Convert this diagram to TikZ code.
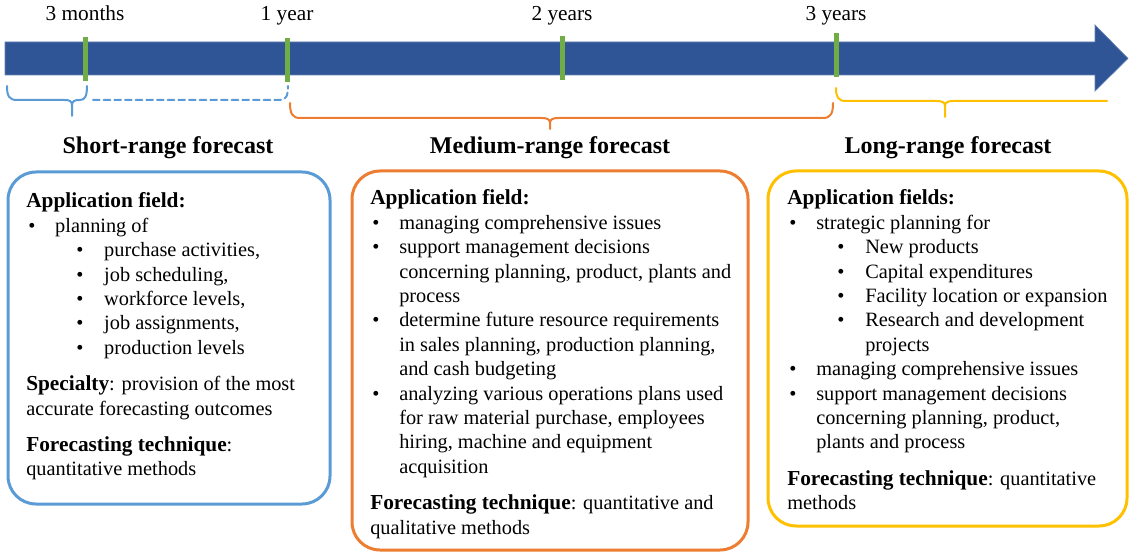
\documentclass[tikz,border=0pt]{standalone}
\usepackage{fontspec}
\setmainfont{Liberation Serif}
\usepackage{tikz}

\definecolor{arrowblue}{HTML}{2F5597}
\definecolor{tickgreen}{HTML}{70AD47}
\definecolor{shortblue}{HTML}{5B9BD5}
\definecolor{medorange}{HTML}{ED7D31}
\definecolor{longyellow}{HTML}{FFC000}

\newcommand{\bul}{\hspace*{1.5pt}\makebox[20.25pt][l]{\textbullet}}
\newcommand{\subbul}{\hspace*{37.5pt}\makebox[21pt][l]{\textbullet}}
\newcommand{\contline}{\hspace*{21.75pt}}
\newcommand{\subcontline}{\hspace*{58.5pt}}
\newcommand{\hd}[1]{{\fontsize{16}{18.3}\selectfont\bfseries #1}}

\tikzset{
    tick/.style={tickgreen, line width=3.75pt},
    timelabel/.style={anchor=base, inner sep=0pt, font=\fontsize{16}{18}\selectfont},
    rangetitle/.style={anchor=base, inner sep=0pt, font=\fontsize{18}{21}\selectfont\bfseries},
    bracket/.style={line width=1.5pt, line cap=round},
    boxline/.style={line width=2.25pt, rounded corners=21pt},
    boxtext/.style={anchor=base west, inner sep=0pt, font=\fontsize{15.25}{18.3}\selectfont},
}

\begin{document}
\begin{tikzpicture}[x=0.75pt, y=-0.75pt]
    \useasboundingbox (0,0) rectangle (1130,555);

    % Timeline arrow
    \fill[arrowblue, draw=arrowblue!75!white, line width=0.5pt]
        (5,42) -- (1095,42) -- (1095,25) -- (1128,58.5) -- (1095,91) -- (1095,75) -- (5,75) -- cycle;

    % Tick marks and time labels
    \foreach \x/\ya/\yb/\name/\lbl in {85/37/81/lblthree/3 months, 287/38/82/lblone/1 year,
                                      562/36/80/lbltwo/2 years, 836/33/77/lblfour/3 years} {
        \draw[tick] (\x,\ya) -- (\x,\yb);
        \node[timelabel] (\name) at (\x,21) {\lbl};
    }

    % Short-range bracket (solid part, then dashed)
    \draw[bracket, shortblue] (7,86) .. controls (7,96) and (9,100) .. (17,100) -- (64,100)
        .. controls (70,100) and (72,101) .. (72,106) -- (72,116);
    \draw[bracket, shortblue] (72,106) .. controls (72,101) and (74,100) .. (80,100)
        .. controls (85,100) and (87,96) .. (87,86);
    \draw[bracket, shortblue, dash pattern=on 5pt off 3pt] (93,100) -- (280,100)
        .. controls (286,100) and (288,96) .. (288,86);

    % Medium-range bracket
    \draw[bracket, medorange] (290,103) .. controls (290,113) and (292,118) .. (300,118) -- (541,118)
        .. controls (547,118) and (550,119) .. (550,123) -- (550,129);
    \draw[bracket, medorange] (550,123) .. controls (550,119) and (553,118) .. (559,118) -- (823,118)
        .. controls (831,118) and (833,113) .. (833,103);

    % Long-range bracket
    \draw[bracket, longyellow] (836,88) .. controls (836,97) and (838,101) .. (846,101) -- (936,101)
        .. controls (942,101) and (945,102) .. (945,106) -- (945,117);
    \draw[bracket, longyellow] (945,106) .. controls (945,102) and (948,101) .. (954,101) -- (1107,101);

    % Range titles
    \node[rangetitle] (shorttitle) at (168,154) {Short-range forecast};
    \node[rangetitle] (medtitle) at (550,154) {Medium-range forecast};
    \node[rangetitle] (longtitle) at (948,154) {Long-range forecast};

    % Boxes
    \draw[boxline, shortblue] (8,172) rectangle (330,504);
    \draw[boxline, medorange] (352,171) rectangle (748,550);
    \draw[boxline, longyellow] (768,171) rectangle (1127,526);

    % Short-range text
    \node[boxtext] (shorttext) at (26,208) {\parbox[t]{230pt}{%
        \hd{Application field:}\\
        \bul planning of\\
        \subbul purchase activities,\\
        \subbul job scheduling,\\
        \subbul workforce levels,\\
        \subbul job assignments,\\
        \subbul production levels\\[9pt]
        \hd{Specialty}: provision of the most\\
        accurate forecasting outcomes\\[9pt]
        \hd{Forecasting technique}:\\
        quantitative methods}};

    % Medium-range text
    \node[boxtext] (medtext) at (370,205) {\parbox[t]{290pt}{%
        \hd{Application field:}\\
        \bul managing comprehensive issues\\
        \bul support management decisions\\
        \contline concerning planning, product, plants and\\
        \contline process\\
        \bul determine future resource requirements\\
        \contline in sales planning, production planning,\\
        \contline and cash budgeting\\
        \bul analyzing various operations plans used\\
        \contline for raw material purchase, employees\\
        \contline hiring, machine and equipment\\
        \contline acquisition\\[9pt]
        \hd{Forecasting technique}: quantitative and\\
        qualitative methods}};

    % Long-range text
    \node[boxtext] (longtext) at (787,205) {\parbox[t]{260pt}{%
        \hd{Application fields:}\\
        \bul strategic planning for\\
        \subbul New products\\
        \subbul Capital expenditures\\
        \subbul Facility location or expansion\\
        \subbul Research and development\\
        \subcontline projects\\
        \bul managing comprehensive issues\\
        \bul support management decisions\\
        \contline concerning planning, product,\\
        \contline plants and process\\[9pt]
        \hd{Forecasting technique}: quantitative\\
        methods}};
\end{tikzpicture}
\end{document}
